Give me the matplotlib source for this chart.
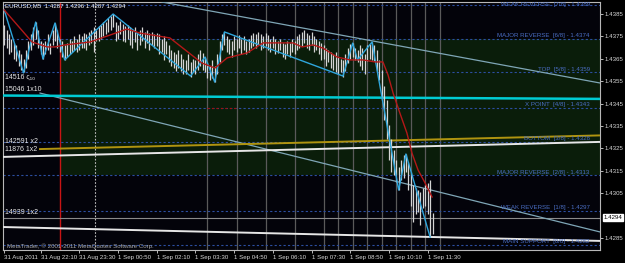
import matplotlib
matplotlib.use("Agg")
import matplotlib.pyplot as plt
from matplotlib.transforms import blended_transform_factory

# EURUSD M5 bars (bar index 0 = 31 Aug 20:55)
HIGH = [1.43800, 1.43780, 1.43760, 1.43740, 1.43720, 1.43710, 1.43690, 1.43670, 1.43650, 1.43690,
        1.43730, 1.43760, 1.43790, 1.43815, 1.43780, 1.43730, 1.43720, 1.43730, 1.43760, 1.43720,
        1.43780, 1.43810, 1.43780, 1.43740, 1.43730, 1.43710, 1.43720, 1.43740, 1.43730, 1.43750,
        1.43740, 1.43760, 1.43750, 1.43765, 1.43760, 1.43770, 1.43780, 1.43790, 1.43780, 1.43795,
        1.43800, 1.43815, 1.43815, 1.43830, 1.43840, 1.43850, 1.43815, 1.43800, 1.43820, 1.43805,
        1.43795, 1.43800, 1.43790, 1.43780, 1.43790, 1.43770, 1.43780, 1.43790, 1.43770, 1.43780,
        1.43765, 1.43770, 1.43760, 1.43765, 1.43760, 1.43740, 1.43750, 1.43730, 1.43710, 1.43690,
        1.43680, 1.43670, 1.43690, 1.43670, 1.43650, 1.43645, 1.43670, 1.43635, 1.43650, 1.43645,
        1.43670, 1.43690, 1.43675, 1.43660, 1.43635, 1.43620, 1.43645, 1.43620, 1.43670, 1.43730,
        1.43760, 1.43770, 1.43750, 1.43740, 1.43730, 1.43750, 1.43740, 1.43755, 1.43740, 1.43750,
        1.43730, 1.43740, 1.43755, 1.43765, 1.43760, 1.43770, 1.43760, 1.43750, 1.43765, 1.43755,
        1.43740, 1.43750, 1.43740, 1.43730, 1.43740, 1.43720, 1.43715, 1.43730, 1.43720, 1.43740,
        1.43730, 1.43750, 1.43760, 1.43770, 1.43780, 1.43765, 1.43755, 1.43770, 1.43750, 1.43740,
        1.43730, 1.43720, 1.43710, 1.43700, 1.43690, 1.43680, 1.43670, 1.43680, 1.43660, 1.43650,
        1.43645, 1.43670, 1.43700, 1.43715, 1.43720, 1.43700, 1.43690, 1.43710, 1.43700, 1.43670,
        1.43710, 1.43715, 1.43725, 1.43710, 1.43690, 1.43645, 1.43600, 1.43530, 1.43465, 1.43355,
        1.43290, 1.43245, 1.43200, 1.43165, 1.43200, 1.43220, 1.43225, 1.43190, 1.43145, 1.43085,
        1.43075, 1.43065, 1.43055, 1.43075, 1.43085, 1.43095, 1.43110, 1.42960]
LOW = [1.43710, 1.43700, 1.43670, 1.43680, 1.43650, 1.43640, 1.43620, 1.43600, 1.43590, 1.43610,
       1.43650, 1.43690, 1.43710, 1.43740, 1.43700, 1.43670, 1.43650, 1.43670, 1.43690, 1.43670,
       1.43710, 1.43730, 1.43700, 1.43680, 1.43660, 1.43645, 1.43660, 1.43670, 1.43680, 1.43690,
       1.43680, 1.43690, 1.43700, 1.43700, 1.43690, 1.43710, 1.43720, 1.43680, 1.43730, 1.43730,
       1.43740, 1.43750, 1.43760, 1.43770, 1.43780, 1.43790, 1.43730, 1.43740, 1.43760, 1.43730,
       1.43725, 1.43740, 1.43710, 1.43700, 1.43725, 1.43690, 1.43710, 1.43730, 1.43700, 1.43720,
       1.43690, 1.43710, 1.43700, 1.43705, 1.43670, 1.43680, 1.43645, 1.43670, 1.43635, 1.43620,
       1.43610, 1.43595, 1.43610, 1.43595, 1.43580, 1.43580, 1.43600, 1.43570, 1.43590, 1.43580,
       1.43600, 1.43620, 1.43600, 1.43590, 1.43565, 1.43555, 1.43565, 1.43545, 1.43580, 1.43635,
       1.43690, 1.43710, 1.43680, 1.43670, 1.43660, 1.43690, 1.43680, 1.43700, 1.43670, 1.43690,
       1.43670, 1.43680, 1.43700, 1.43705, 1.43700, 1.43710, 1.43690, 1.43700, 1.43705, 1.43690,
       1.43680, 1.43700, 1.43670, 1.43675, 1.43690, 1.43660, 1.43650, 1.43670, 1.43660, 1.43680,
       1.43670, 1.43690, 1.43700, 1.43705, 1.43720, 1.43700, 1.43690, 1.43710, 1.43680, 1.43690,
       1.43670, 1.43645, 1.43650, 1.43620, 1.43635, 1.43610, 1.43600, 1.43590, 1.43580, 1.43590,
       1.43570, 1.43595, 1.43630, 1.43650, 1.43660, 1.43645, 1.43635, 1.43620, 1.43600, 1.43580,
       1.43640, 1.43650, 1.43645, 1.43640, 1.43595, 1.43555, 1.43465, 1.43375, 1.43290, 1.43200,
       1.43145, 1.43130, 1.43100, 1.43065, 1.43110, 1.43120, 1.43145, 1.43065, 1.42995, 1.42920,
       1.42955, 1.42965, 1.42910, 1.42985, 1.42995, 1.42955, 1.42855, 1.42870]

# moving average, vertices (bar, price)
MA_X = [0, 11.5, 17.7, 21, 25.1, 35.4, 43.7, 50.7, 56.1, 68.5, 81.7, 87.1, 92.1, 100.3, 107,
        119.3, 123.1, 127.6, 131.7, 137.5, 142.9, 148.3, 153.2, 156.5, 158.6, 160.7, 163.5,
        166.4, 168.5, 171, 173.9, 176.8]
MA_Y = [1.43868, 1.43725, 1.43703, 1.43703, 1.43712, 1.43725, 1.43756, 1.43783, 1.43765, 1.43743,
        1.43631, 1.43609, 1.43654, 1.43676, 1.43721, 1.43721, 1.43703, 1.43712, 1.43698, 1.43658,
        1.43645, 1.43645, 1.43636, 1.43636, 1.43578, 1.43497, 1.43408, 1.43319, 1.43229, 1.43154,
        1.43096, 1.43033]

# zigzag swing points
ZZ_X = [0, 8, 13, 16, 21, 25, 45, 77, 83, 87, 91, 140, 144, 146, 152, 163, 166, 176]
ZZ_Y = [1.43868, 1.43587, 1.43814, 1.43649, 1.43810, 1.43645, 1.43850, 1.43573, 1.43658, 1.43546,
        1.43770, 1.43573, 1.43720, 1.43645, 1.43725, 1.43064, 1.43225, 1.42854]

# Murrey math levels
LEVELS = [1.4389, 1.4374, 1.4359, 1.4343, 1.4328, 1.4313, 1.4297, 1.4282]
LEVEL_NAMES = ["WEAK REVERSE  [7/8]", "MAJOR REVERSE  [6/8]", "TOP  [5/8]", "X POINT  [4/8]",
               "BOTTOM  [3/8]", "MAJOR REVERSE  [2/8]", "WEAK REVERSE  [1/8]", "MAIN SUPPORT  [0/8]"]

# trend / gann lines: (bar0, price0, bar1, price1)
TREND_TOP = (81, 1.43872, 246.2, 1.43542)
TREND_MID = (14.8, 1.43497, 246.2, 1.42877)
GANN_CYAN = (-0.5, 1.43486, 246.2, 1.43471)
GANN_GOLD = (14.8, 1.43247, 246.2, 1.43308)
GANN_WHITE = (-0.5, 1.43212, 246.2, 1.43279)
GANN_LOW = (-0.5, 1.42899, 246.2, 1.42837)

VLINES = [84, 96, 108, 120, 132, 138, 144, 150, 156, 162, 168, 174, 180]
RED_VLINE = 23
DOT_VLINE = 37.5
LAST_PRICE = 1.4294

TIME_TICKS = [0, 15, 31, 47, 63, 79, 95, 111, 127, 143, 159, 175]
TIME_LABELS = ["31 Aug 2011", "31 Aug 22:10", "31 Aug 23:30", "1 Sep 00:50", "1 Sep 02:10",
               "1 Sep 03:30", "1 Sep 04:50", "1 Sep 06:10", "1 Sep 07:30", "1 Sep 08:50",
               "1 Sep 10:10", "1 Sep 11:30"]
PRICE_TICKS = [1.4385, 1.4375, 1.4365, 1.4355, 1.4345, 1.4335, 1.4325, 1.4315, 1.4305, 1.4285]

FONT = "Liberation Sans"
FS = 4.4

fig = plt.figure(figsize=(6.25, 2.63), dpi=100, facecolor="black")
ax = fig.add_axes([3 / 625, 13 / 263, 597 / 625, 248 / 263])
ax.set_facecolor("#03030a")
XMAX = 246.2
ax.set_xlim(-0.5, XMAX)
ax.set_ylim(1.427964, 1.439036)

# green zone between 2/8 and 6/8
ax.fill_between([RED_VLINE, XMAX], LEVELS[5], LEVELS[1], color="#0a1d0a", zorder=0, lw=0)

for v in VLINES:
    ax.axvline(v, color="#5a5a5a", lw=0.9, zorder=1)
ax.axvline(RED_VLINE, color="#c81414", lw=1, zorder=1)
ax.axvline(DOT_VLINE, color="#bdbdbd", lw=0.8, ls=(0, (1.5, 1.5)), zorder=1)

tx = blended_transform_factory(ax.transAxes, ax.transData)
for i, (p, name) in enumerate(zip(LEVELS, LEVEL_NAMES)):
    ax.axhline(p, color="#2c4ea0", lw=0.8, ls=(0, (2, 2)), zorder=2)
    if i == 0:
        # top label sits against the upper edge
        ax.text(0.983, 0.998, f"{name} - {p:.4f}", transform=ax.transAxes, ha="right",
                va="top", fontsize=FS, color="#4a6ec4", family=FONT, zorder=6)
    else:
        ax.text(0.983, p + 0.00003, f"{name} - {p:.4f}", transform=tx, ha="right",
                va="bottom", fontsize=FS, color="#4a6ec4", family=FONT, zorder=6)
ax.plot([84, 96], [LEVELS[3], LEVELS[3]], color="#a01010", lw=0.8, ls=(0, (2, 2)), zorder=2)

ax.axhline(LAST_PRICE, color="#8a8a8a", lw=0.8, zorder=2)


def seg(line, **kw):
    x0, y0, x1, y1 = line
    ax.plot([x0, x1], [y0, y1], **kw)


ax.axline(TREND_TOP[:2], TREND_TOP[2:], color="#7fa6b6", lw=0.9, zorder=3)
seg(TREND_MID, color="#7fa6b6", lw=0.9, zorder=3)
seg(GANN_CYAN, color="#00ccd4", lw=1.8, zorder=3)
seg(GANN_GOLD, color="#b09410", lw=1.4, zorder=3)
seg(GANN_WHITE, color="#e6e6e6", lw=1.4, zorder=3)
seg(GANN_LOW, color="#e6e6e6", lw=1.4, zorder=3)

idx = list(range(len(HIGH)))
ax.vlines(idx, LOW, HIGH, color="#d4d4d4", lw=0.9, zorder=4)
ax.plot(ZZ_X, ZZ_Y, color="#2fa6dc", lw=1, zorder=5)
ax.plot(MA_X, MA_Y, color="#b41818", lw=1, zorder=5)

# left-side labels
left = [(1.43569, "14516 \u03c2\u2081\u2080"), (1.43515, "15046 1x10"), (1.43279, "142591 x2"),
        (1.43243, "11876 1x2"), (1.42962, "14939 1x2")]
for p, s in left:
    ax.text(0.004, p, s, transform=tx, ha="left", va="center", fontsize=FS + 0.6,
            color="#e8e8e8", family=FONT, zorder=6)

ax.text(0.004, 0.985, "EURUSD,M5  1.4287 1.4296 1.4287 1.4294", transform=ax.transAxes,
        ha="left", va="center", fontsize=FS, color="white", family=FONT, zorder=6)
ax.text(0.006, 0.015, "MetaTrader, \u00a9 2001-2011 MetaQuotes Software Corp.",
        transform=ax.transAxes, ha="left", va="center", fontsize=FS, color="#a8a8a8",
        family=FONT, zorder=6)

# axes
for s in ax.spines.values():
    s.set_color("#b8b8b8")
    s.set_linewidth(0.8)
ax.yaxis.tick_right()
ax.set_yticks(PRICE_TICKS)
ax.set_yticklabels([f"{p:.4f}" for p in PRICE_TICKS])
ax.set_xticks(TIME_TICKS)
ax.set_xticklabels(TIME_LABELS)
ax.tick_params(colors="#d8d8d8", labelsize=FS, length=2, width=0.6, pad=1.5)
for lbl in ax.get_xticklabels() + ax.get_yticklabels():
    lbl.set_family(FONT)
for lbl in ax.get_xticklabels():
    lbl.set_ha("left")

ax.annotate(f"{LAST_PRICE:.4f}", xy=(1, LAST_PRICE), xycoords=tx, xytext=(2.5, 0),
            textcoords="offset points", ha="left", va="center", fontsize=FS, color="black",
            family=FONT, bbox=dict(boxstyle="square,pad=0.15", fc="white", ec="white"))

fig.savefig("out.png", dpi=100, facecolor="black")
